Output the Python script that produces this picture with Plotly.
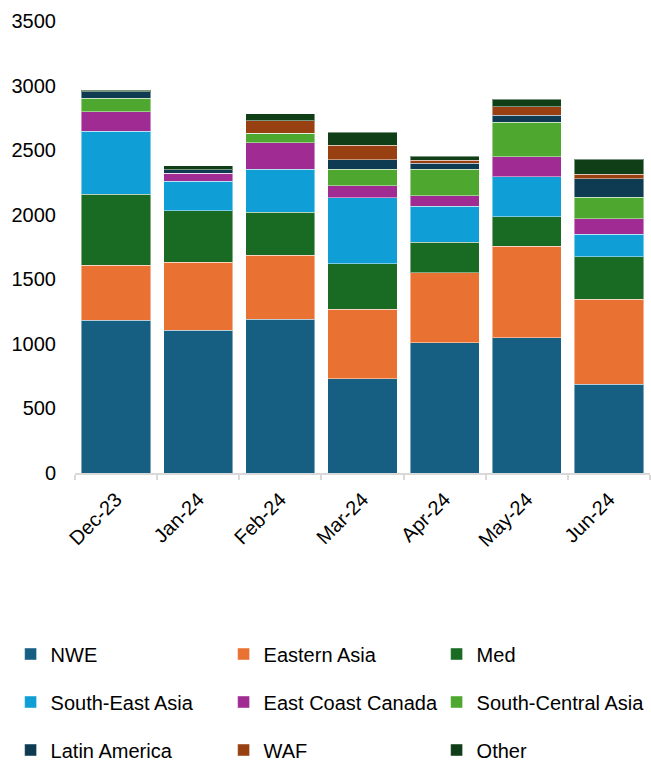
import plotly.graph_objects as go

months = ["Dec-23", "Jan-24", "Feb-24", "Mar-24", "Apr-24", "May-24", "Jun-24"]

nwe = [1184, 1107, 1192, 730, 1009, 1048, 689]
eastern_asia = [426, 524, 496, 537, 542, 709, 658]
med = [548, 400, 333, 354, 235, 227, 328]
south_east_asia = [487, 227, 333, 511, 279, 310, 175]
east_coast_canada = [152, 62, 203, 93, 82, 155, 119]
south_central_asia = [104, 0, 73, 129, 204, 266, 165]
latin_america = [51, 30, 0, 72, 46, 57, 145]
waf = [0, 0, 98, 111, 26, 64, 36]
other = [12, 31, 54, 101, 28, 57, 116]

series = [
    ("NWE", nwe, "#175F82", "legend"),
    ("Eastern Asia", eastern_asia, "#E97132", "legend"),
    ("Med", med, "#196B24", "legend"),
    ("South-East Asia", south_east_asia, "#0F9ED5", "legend2"),
    ("East Coast Canada", east_coast_canada, "#A02B93", "legend2"),
    ("South-Central Asia", south_central_asia, "#4EA72E", "legend2"),
    ("Latin America", latin_america, "#0E3A52", "legend3"),
    ("WAF", waf, "#984012", "legend3"),
    ("Other", other, "#0F3E17", "legend3"),
]

FONT = "Liberation Sans, Arial, sans-serif"

fig = go.Figure()
for name, vals, color, lg in series:
    fig.add_trace(go.Bar(
        x=months, y=vals, name=name, legend=lg,
        marker=dict(color=color, line=dict(color="rgba(255,255,255,0.45)", width=1)),
    ))

PLOT_BOTTOM = 473.0
PLOT_H = 452.0

def legend_cfg(y_px):
    return dict(
        orientation="h", x=-0.112, xanchor="left",
        y=(PLOT_BOTTOM - y_px) / PLOT_H, yanchor="middle",
        entrywidth=168, entrywidthmode="pixels",
        font=dict(family=FONT, size=20, color="#000000"),
        bgcolor="rgba(0,0,0,0)", borderwidth=0, traceorder="normal",
    )

fig.update_layout(
    barmode="stack",
    bargap=0.158,
    width=651, height=761,
    margin=dict(l=75, r=1, t=21, b=288, autoexpand=False),
    plot_bgcolor="white", paper_bgcolor="white",
    font=dict(family=FONT, size=20, color="#000000"),
    showlegend=True,
    legend=legend_cfg(654),
    legend2=legend_cfg(702),
    legend3=legend_cfg(750),
    xaxis=dict(
        tickangle=-45, showgrid=False, showline=True, linecolor="#D9D9D9", linewidth=1.5,
        ticks="outside", tickson="boundaries", ticklen=5, tickcolor="#D9D9D9", tickwidth=1.5,
        ticklabelstandoff=5,
        tickfont=dict(family=FONT, size=20, color="#000000"),
    ),
    yaxis=dict(
        range=[0, 3500], dtick=500, showgrid=False, showline=False, zeroline=False,
        ticks="", ticklabelstandoff=18,
        tickfont=dict(family=FONT, size=20, color="#000000"),
    ),
)

fig.write_html("out.html")
